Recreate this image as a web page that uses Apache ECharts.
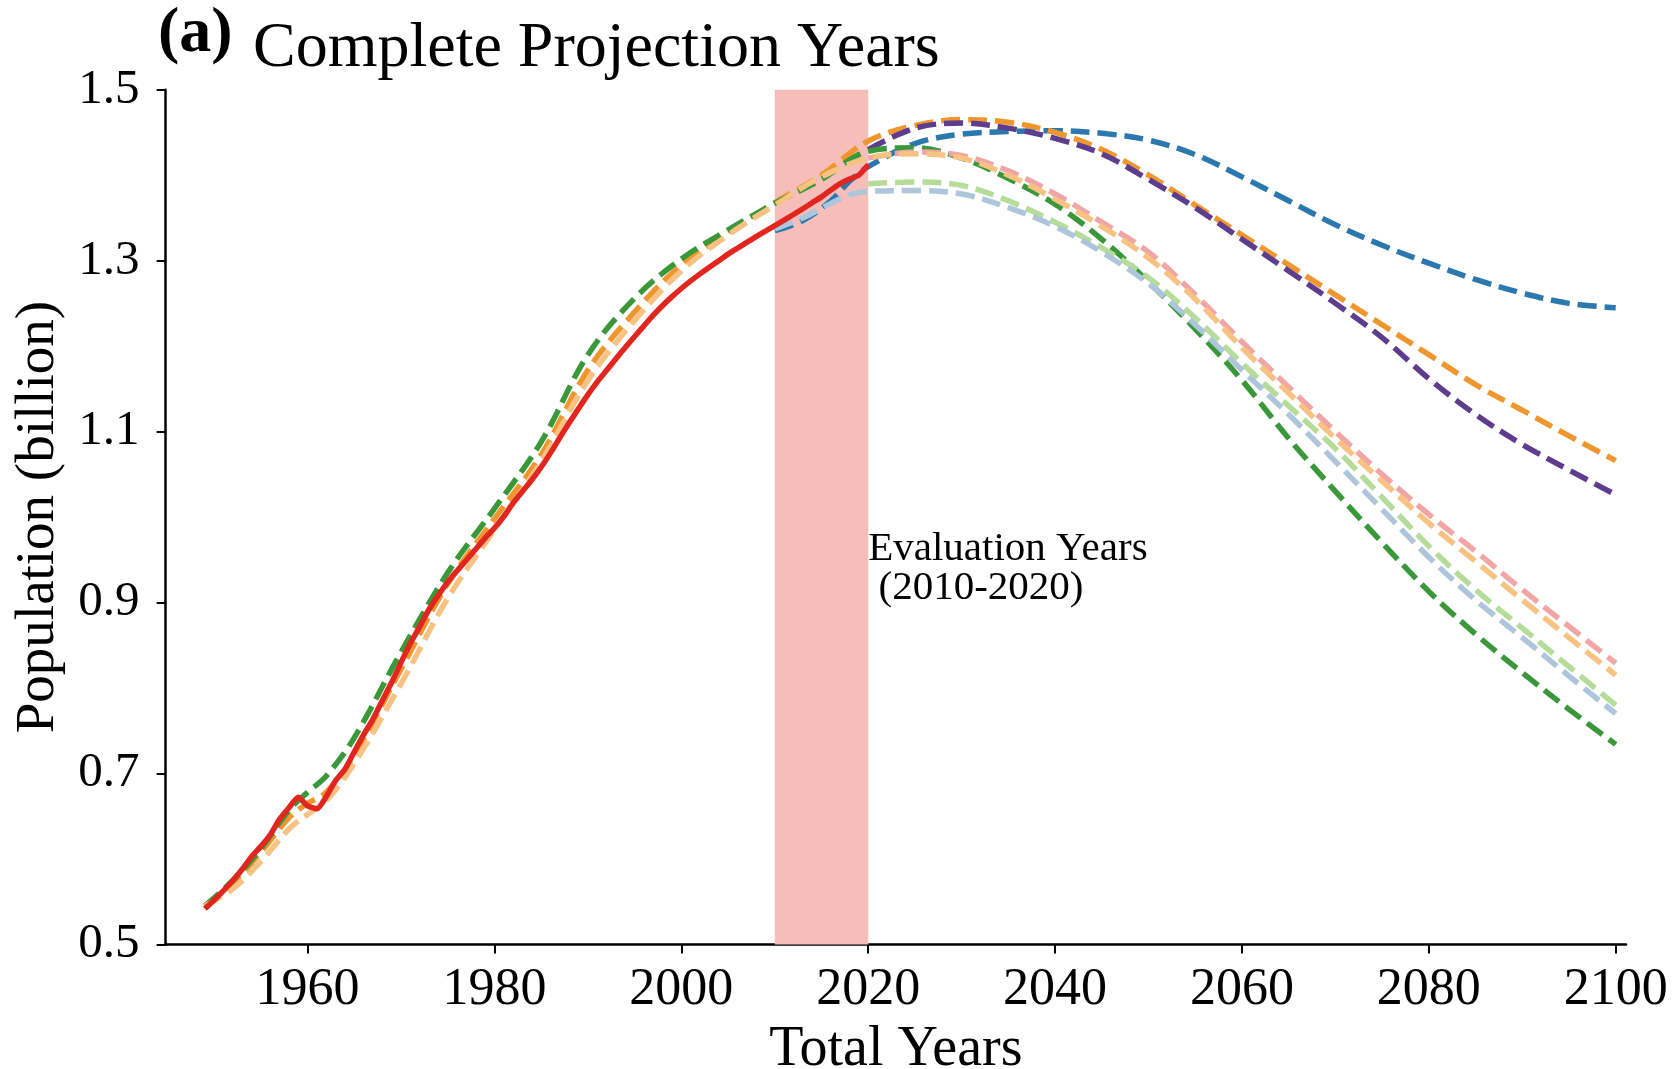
<!DOCTYPE html>
<html><head><meta charset="utf-8">
<script src="https://cdn.jsdelivr.net/npm/echarts@6/dist/echarts.min.js"></script>
<style>html,body{margin:0;padding:0;background:#fff}#c{width:1675px;height:1069px}</style>
</head><body><div id="c"></div>
<script>
// ---------- DATA ----------
const xTicks = [1960, 1980, 2000, 2020, 2040, 2060, 2080, 2100];
const yTicks = [0.5, 0.7, 0.9, 1.1, 1.3, 1.5];
const evalSpan = [2010, 2020];

const observedYears = [1949,1950,1951,1952,1953,1954,1955,1956,1957,1958,1959,1960,1961,1962,1963,1964,1965,1966,1967,1968,1969,1970,1971,1972,1973,1974,1975,1976,1977,1978,1979,1980,1981,1982,1983,1984,1985,1986,1987,1988,1989,1990,1991,1992,1993,1994,1995,1996,1997,1998,1999,2000,2001,2002,2003,2004,2005,2006,2007,2008,2009,2010,2011,2012,2013,2014,2015,2016,2017,2018,2019,2020];
const observed = [0.5417,0.5520,0.5630,0.5748,0.5880,0.6027,0.6147,0.6283,0.6465,0.6599,0.6721,0.6621,0.6586,0.6730,0.6917,0.7050,0.7254,0.7454,0.7637,0.7854,0.8067,0.8299,0.8523,0.8718,0.8921,0.9086,0.9242,0.9372,0.9497,0.9626,0.9754,0.9871,1.0007,1.0165,1.0301,1.0436,1.0585,1.0751,1.0930,1.1103,1.1270,1.1433,1.1582,1.1717,1.1852,1.1985,1.2112,1.2239,1.2363,1.2476,1.2579,1.2674,1.2763,1.2845,1.2923,1.2999,1.3076,1.3145,1.3213,1.3280,1.3345,1.3409,1.3474,1.3540,1.3607,1.3678,1.3746,1.3827,1.3901,1.3954,1.4001,1.4121];

const fullYears = [1949,1952,1955,1958,1960,1962,1965,1970,1975,1980,1985,1990,1995,2000,2005,2010,2015,2020,2025,2030,2035,2040,2045,2050,2055,2060,2065,2070,2075,2080,2085,2090,2095,2100];
const greenProj = [0.545,0.575,0.612,0.657,0.678,0.697,0.742,0.842,0.935,1.010,1.088,1.190,1.256,1.302,1.336,1.367,1.395,1.428,1.432,1.420,1.396,1.366,1.325,1.275,1.220,1.160,1.092,1.030,0.970,0.913,0.863,0.818,0.775,0.734];
const orangeProj = [0.545,0.572,0.608,0.648,0.665,0.678,0.722,0.822,0.922,0.998,1.073,1.172,1.240,1.295,1.333,1.368,1.400,1.440,1.458,1.465,1.462,1.450,1.430,1.400,1.365,1.330,1.295,1.260,1.225,1.190,1.155,1.125,1.095,1.066];
const lightOrangeProj = [0.545,0.565,0.597,0.635,0.652,0.668,0.712,0.805,0.905,0.985,1.065,1.160,1.230,1.288,1.330,1.365,1.398,1.420,1.425,1.420,1.400,1.372,1.340,1.303,1.255,1.198,1.145,1.092,1.042,0.993,0.948,0.903,0.859,0.815];

const evalYears = [2010,2013,2016,2018,2020,2025,2030,2035,2040,2045,2050,2055,2060,2065,2070,2075,2080,2085,2090,2095,2100];
const blueProj = [1.335,1.347,1.370,1.393,1.410,1.437,1.448,1.451,1.452,1.449,1.441,1.424,1.398,1.370,1.342,1.318,1.297,1.278,1.262,1.250,1.245];
const lightBlueProj = [1.337,1.350,1.367,1.377,1.381,1.382,1.378,1.362,1.340,1.310,1.273,1.225,1.172,1.120,1.065,1.009,0.953,0.903,0.859,0.814,0.770];

const projYears = [2020,2025,2030,2035,2040,2045,2050,2055,2060,2065,2070,2075,2080,2085,2090,2095,2100];
const purpleProj = [1.430,1.455,1.461,1.455,1.443,1.425,1.395,1.362,1.325,1.288,1.250,1.210,1.162,1.120,1.085,1.055,1.026];
const pinkProj = [1.420,1.427,1.423,1.405,1.378,1.345,1.310,1.260,1.205,1.152,1.100,1.050,1.003,0.960,0.915,0.872,0.829];
const lightGreenProj = [1.390,1.392,1.388,1.370,1.345,1.315,1.280,1.233,1.180,1.130,1.080,1.023,0.966,0.915,0.870,0.825,0.780];

// ---------- CHART ----------
const FONT = '"Liberation Serif","Times New Roman",serif';
const chart = echarts.init(document.getElementById('c'), null, {renderer: 'canvas'});
function zip(xs, ys) { return xs.map((x, i) => [x, ys[i]]); }
function dashed(name, color, xs, ys, z) {
  return { name, type: 'line', data: zip(xs, ys), smooth: 0.35, symbol: 'none', showSymbol: false,
    lineStyle: { color, width: 5.5, type: [19, 8], cap: 'butt' }, z, silent: true };
}

const option = {
  animation: false,
  backgroundColor: '#fff',
  grid: { left: 165.6, right: 49, top: 89.7, bottom: 124.6, containLabel: false, outerBoundsMode: 'none' },
  xAxis: {
    type: 'value', min: 1944.8, max: 2101.1,
    name: 'Total Years', nameLocation: 'middle', nameGap: 78,
    nameTextStyle: { fontFamily: FONT, fontSize: 56, color: '#000' },
    axisLine: { show: true, onZero: false, lineStyle: { color: '#000', width: 2.5 } },
    axisTick: { show: true, length: 9, customValues: xTicks, lineStyle: { color: '#000', width: 2 } },
    axisLabel: { customValues: xTicks, formatter: v => String(Math.round(v)), fontFamily: FONT, fontSize: 52, color: '#000', margin: 20 },
    splitLine: { show: false }
  },
  yAxis: {
    type: 'value', min: 0.5, max: 1.5,
    name: 'Population (billion)', nameLocation: 'middle', nameGap: 100, nameRotate: 90,
    nameTextStyle: { fontFamily: FONT, fontSize: 55, color: '#000' },
    axisLine: { show: true, onZero: false, lineStyle: { color: '#000', width: 2.5 } },
    axisTick: { show: true, length: 9, customValues: yTicks, lineStyle: { color: '#000', width: 2 } },
    axisLabel: { customValues: yTicks, formatter: v => v.toFixed(1), fontFamily: FONT, fontSize: 49, color: '#000', margin: 26 },
    splitLine: { show: false }
  },
  series: [
    { name: 'span', type: 'line', data: [], z: 1, silent: true,
      markArea: { silent: true, itemStyle: { color: '#f6bdb9' },
        data: [[{ xAxis: evalSpan[0] }, { xAxis: evalSpan[1] }]] } },
    dashed('blue', '#2a78ad', evalYears, blueProj, 2),
    dashed('orange', '#f0962e', fullYears, orangeProj, 3),
    dashed('purple', '#5e3c8e', projYears, purpleProj, 4),
    dashed('green', '#3a983a', fullYears, greenProj, 5),
    dashed('pink', '#f2a5a5', projYears, pinkProj, 6),
    dashed('lightOrange', '#f7c282', fullYears, lightOrangeProj, 7),
    dashed('lightGreen', '#b5dc98', projYears, lightGreenProj, 8),
    dashed('lightBlue', '#aec6dc', evalYears, lightBlueProj, 9),
    { name: 'observed', type: 'line', data: zip(observedYears, observed), symbol: 'none', showSymbol: false,
      smooth: 0.2, lineStyle: { color: '#e0261e', width: 5.5 }, z: 10, silent: true }
  ]
};
chart.setOption(option);

const p1 = chart.convertToPixel({ gridIndex: 0 }, [2020, 0.962]);
const p2 = chart.convertToPixel({ gridIndex: 0 }, [2020, 0.917]);
chart.setOption({
  graphic: [
    { type: 'text', left: 158, top: 2, style: { text: '(a)', font: 'bold 64px ' + FONT, fill: '#000' } },
    { type: 'text', x: 253, y: 49, style: { text: 'Complete Projection Years', font: '64px ' + FONT, fill: '#000', verticalAlign: 'middle', align: 'left' } },
    { type: 'text', x: p1[0], y: p1[1], style: { text: 'Evaluation Years', font: '41px ' + FONT, fill: '#000', verticalAlign: 'middle', align: 'left' } },
    { type: 'text', x: p2[0], y: p2[1], style: { text: ' (2010-2020)', font: '41px ' + FONT, fill: '#000', verticalAlign: 'middle', align: 'left' } }
  ]
});
</script></body></html>
